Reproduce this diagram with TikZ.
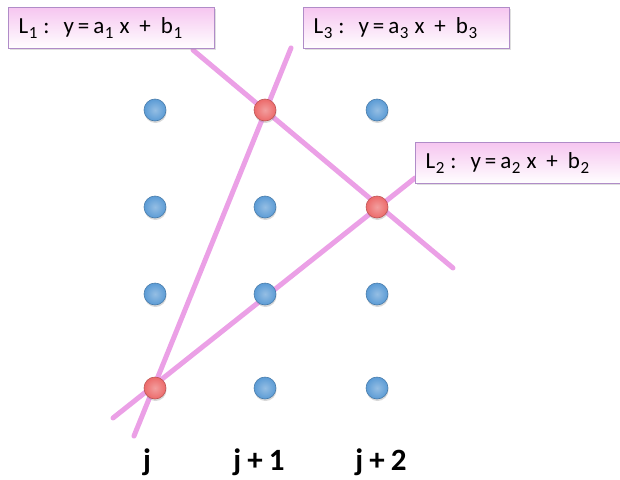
\documentclass[tikz,border=0pt]{standalone}
\usepackage{fontspec}
\setmainfont{Carlito}
\usetikzlibrary{shadows}
\definecolor{linec}{HTML}{EBA0E6}
\definecolor{boxb}{HTML}{B08CC8}
\definecolor{boxt}{HTML}{F6C6F0}
\definecolor{dotb}{HTML}{5B9BD5}
\definecolor{dotr}{HTML}{EC6A6A}
\newcommand{\mysub}[1]{\hspace{0.5pt}\raisebox{-5pt}{\fontsize{17}{17}\selectfont #1}}
\newcommand{\eqline}[1]{\makebox[186pt][l]{L\mysub{#1}\hspace{6pt}:\hspace{14pt}y\hspace{4pt}=\hspace{4pt}a\mysub{#1}\hspace{6pt}x\hspace{10pt}+\hspace{10pt}b\mysub{#1}}}
\tikzset{
  ln/.style={draw=linec,line width=5pt,line cap=round},
  eqbox/.style={draw=boxb,line width=1.2pt,top color=boxt,bottom color=white,
    minimum height=41pt,anchor=north west,inner xsep=10pt,
    font=\fontsize{23}{25}\selectfont,
    drop shadow={opacity=0.25,shadow xshift=1.5pt,shadow yshift=-1.5pt}},
  bdot/.style={circle,minimum size=22pt,inner sep=0pt,draw=dotb!80!black,line width=0.6pt,
    inner color=dotb!65!white,outer color=dotb,
    drop shadow={opacity=0.3,shadow xshift=0.5pt,shadow yshift=-2pt}},
  rdot/.style={circle,minimum size=22pt,inner sep=0pt,draw=dotr!80!black,line width=0.6pt,
    inner color=dotr!65!white,outer color=dotr,
    drop shadow={opacity=0.3,shadow xshift=0.5pt,shadow yshift=-2pt}},
  lab/.style={font=\bfseries\fontsize{31}{33}\selectfont}
}
\begin{document}
\begin{tikzpicture}[x=1pt,y=-1pt]
\useasboundingbox (0,0) rectangle (620,479);
% line endpoints
\coordinate (a1) at (193,50);
\coordinate (a2) at (453,268);
\coordinate (c1) at (291,48);
\coordinate (c2) at (134,436);
\coordinate (b1) at (113,418);
\coordinate (b2) at (415,178);
\draw[ln] (a1) -- (a2);
\draw[ln] (c1) -- (c2);
\draw[ln] (b1) -- (b2);
% boxes
\node[eqbox] (L1) at (8,7) {\eqline{1}};
\node[eqbox] (L3) at (303,7) {\eqline{3}};
\node[eqbox] (L2) at (415,142) {\eqline{2}};
% dots
\node[bdot] (d11) at (155,110) {};
\node[rdot] (d21) at (265,110) {};
\node[bdot] (d31) at (377,110) {};
\node[bdot] (d12) at (155,207) {};
\node[bdot] (d22) at (265,207) {};
\node[rdot] (d32) at (377,207) {};
\node[bdot] (d13) at (155,294) {};
\node[bdot] (d23) at (265,294) {};
\node[bdot] (d33) at (377,294) {};
\node[rdot] (d14) at (155,388) {};
\node[bdot] (d24) at (265,388) {};
\node[bdot] (d34) at (377,388) {};
% labels
\node[lab] (j0) at (147,462) {j};
\node[lab] (j1) at (259,462) {j\hspace{0.2em}+\hspace{0.2em}1};
\node[lab] (j2) at (381,462) {j\hspace{0.2em}+\hspace{0.2em}2};
\end{tikzpicture}
\end{document}
